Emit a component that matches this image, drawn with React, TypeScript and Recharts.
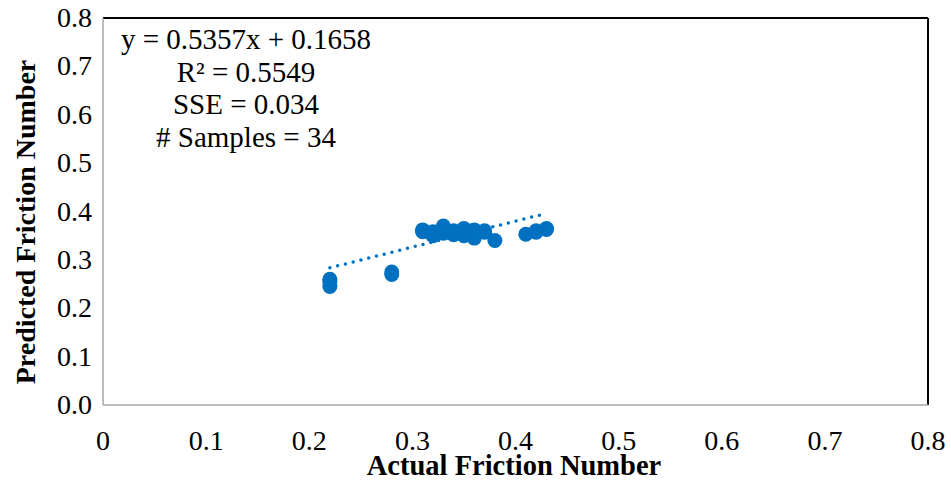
import React from 'react';
import {
  ScatterChart,
  Scatter,
  XAxis,
  YAxis,
  ReferenceLine,
} from 'recharts';

// Actual vs predicted friction numbers (34 samples, many overlap)
const actual = [
  0.22, 0.22, 0.22, 0.28, 0.28, 0.31, 0.31, 0.31, 0.32, 0.32, 0.32, 0.33,
  0.33, 0.33, 0.33, 0.34, 0.34, 0.34, 0.35, 0.35, 0.35, 0.35, 0.36, 0.36,
  0.36, 0.36, 0.37, 0.37, 0.38, 0.41, 0.42, 0.42, 0.43, 0.43,
];
const predicted = [
  0.26, 0.245, 0.255, 0.275, 0.27, 0.36, 0.362, 0.358, 0.355, 0.358, 0.35, 0.37,
  0.36, 0.355, 0.365, 0.352, 0.356, 0.36, 0.362, 0.355, 0.365, 0.35, 0.362, 0.345,
  0.352, 0.358, 0.357, 0.36, 0.34, 0.353, 0.357, 0.36, 0.363, 0.365,
];

// Linear trendline y = 0.5357x + 0.1658, drawn over the data range
const trendCoef = [0.5357, 0.1658];
const trendRange = [0.22, 0.43];

const xTicks = [0, 0.1, 0.2, 0.3, 0.4, 0.5, 0.6, 0.7, 0.8];
const yTicks = [0, 0.1, 0.2, 0.3, 0.4, 0.5, 0.6, 0.7, 0.8];

const statLines = ['y = 0.5357x + 0.1658', 'R² = 0.5549', 'SSE = 0.034', '# Samples = 34'];

const BLUE = '#0070C0';
const FONT = 'Liberation Serif';

const points = actual.map((x, i) => ({ x, y: predicted[i] }));
const trend = trendRange.map((x) => ({ x, y: trendCoef[0] * x + trendCoef[1] }));

const XTick = (props: any) => {
  const { x, y, payload } = props;
  return (
    <text x={x} y={y + 37} textAnchor="middle" fontFamily={FONT} fontSize={28} fill="#000">
      {payload.value === 0 ? '0' : payload.value.toFixed(1)}
    </text>
  );
};

const YTick = (props: any) => {
  const { x, y, payload } = props;
  return (
    <text x={x - 3} y={y + 9} textAnchor="end" fontFamily={FONT} fontSize={28} fill="#000">
      {payload.value.toFixed(1)}
    </text>
  );
};

const XLabel = () => (
  <text x={514} y={475} textAnchor="middle" fontFamily={FONT} fontSize={28.5} fontWeight="bold" fill="#000">
    Actual Friction Number
  </text>
);

const YLabel = () => (
  <text
    x={0}
    y={0}
    transform="translate(35, 222) rotate(-90)"
    textAnchor="middle"
    fontFamily={FONT}
    fontSize={28}
    fontWeight="bold"
    fill="#000"
  >
    Predicted Friction Number
  </text>
);

export default function App() {
  return (
    <div style={{ position: 'absolute', left: 0, top: 0, width: 951, height: 481, background: '#fff' }}>
      <ScatterChart width={951} height={481} margin={{ top: 18, right: 23, bottom: 0, left: 0 }}>
        <XAxis
          type="number"
          dataKey="x"
          domain={[0, 0.8]}
          ticks={xTicks}
          tick={<XTick />}
          tickLine={false}
          axisLine={{ stroke: '#a6a6a6', strokeWidth: 1.5 }}
          height={76}
          label={<XLabel />}
        />
        <YAxis
          type="number"
          dataKey="y"
          domain={[0, 0.8]}
          ticks={yTicks}
          tick={<YTick />}
          tickLine={false}
          axisLine={{ stroke: '#a6a6a6', strokeWidth: 1.5 }}
          width={103}
          label={<YLabel />}
        />
        <ReferenceLine y={0.8} stroke="#000" strokeWidth={2} />
        <ReferenceLine x={0.8} stroke="#000" strokeWidth={2} />
        <Scatter data={points} fill={BLUE} isAnimationActive={false} shape={(p: any) => (
          <circle cx={p.cx} cy={p.cy} r={7.5} fill={BLUE} />
        )} />
        <Scatter
          data={trend}
          isAnimationActive={false}
          line={{ stroke: BLUE, strokeWidth: 3.5, strokeDasharray: '0 8', strokeLinecap: 'round' }}
          shape={() => <g />}
        />
      </ScatterChart>
      <div
        style={{
          position: 'absolute',
          left: 106,
          top: 23,
          width: 280,
          textAlign: 'center',
          fontFamily: FONT,
          fontSize: 29,
          lineHeight: '32.5px',
          color: '#000',
        }}
      >
        {statLines.map((s) => (
          <div key={s}>{s}</div>
        ))}
      </div>
    </div>
  );
}
